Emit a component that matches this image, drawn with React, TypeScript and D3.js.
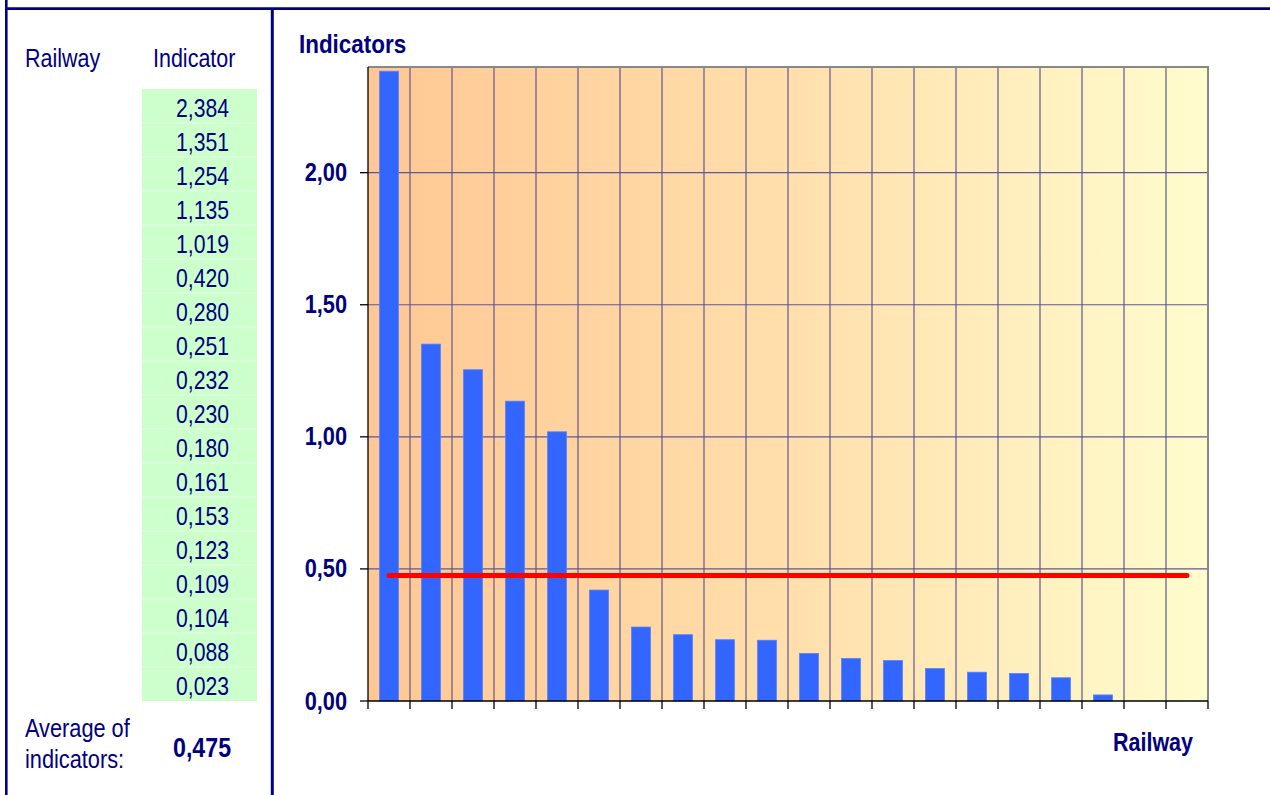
import React from 'react'
import * as d3 from 'd3'

// data
const railways = ['R1', 'R2', 'R3', 'R4', 'R5', 'R6', 'R7', 'R8', 'R9', 'R10', 'R11', 'R12', 'R13', 'R14', 'R15', 'R16', 'R17', 'R18', 'R19', 'R20']
const indicators = [2.384, 1.351, 1.254, 1.135, 1.019, 0.42, 0.28, 0.251, 0.232, 0.23, 0.18, 0.161, 0.153, 0.123, 0.109, 0.104, 0.088, 0.023]
const average = 0.475
const yTicks = [0, 0.5, 1, 1.5, 2]

const W = 1270
const H = 795
const NAVY = '#000080'
const FONT = '"Liberation Sans", Arial, sans-serif'

const plot = { left: 368, right: 1208, top: 67, bottom: 701 }

const locale = d3.formatLocale({ decimal: ',', thousands: '.', grouping: [3], currency: ['', ''] })
const fmt2 = locale.format('.2f')
const fmt3 = locale.format('.3f')

// text helper, the source font is narrower than Arial
const T = ({ x, y, size, bold = false, anchor = 'start', sx = 0.86, children }: any) => (
  <text
    transform={`translate(${x},${y}) scale(${sx},1)`}
    fontSize={size}
    fontWeight={bold ? 'bold' : 'normal'}
    fontFamily={FONT}
    fill={NAVY}
    textAnchor={anchor}
  >
    {children}
  </text>
)

export default function App() {
  const x = d3
    .scaleBand<string>()
    .domain(railways)
    .range([plot.left, plot.right])
    .paddingInner(0.55)
    .paddingOuter(0.275)
  const step = x.step()
  const y = d3.scaleLinear().domain([0, 2.4]).range([plot.bottom, plot.top])

  const bounds = d3.range(railways.length + 1).map((i) => plot.left + i * step)
  const center = (r: string) => (x(r) as number) + x.bandwidth() / 2

  // table
  const rowH = 34
  const tableTop = 89

  return (
    <svg width={W} height={H} style={{ position: 'absolute', left: 0, top: 0, background: '#fff' }}>
      <defs>
        <linearGradient id="bg" x1="0" x2="1" y1="0" y2="0">
          <stop offset="0%" stopColor="#ffc793" />
          <stop offset="50%" stopColor="#ffdfab" />
          <stop offset="100%" stopColor="#fffccd" />
        </linearGradient>
      </defs>

      {/* frame */}
      <line x1={6.3} x2={6.3} y1={0} y2={H} stroke={NAVY} strokeWidth={2.6} />
      <line x1={5} x2={W} y1={8.7} y2={8.7} stroke={NAVY} strokeWidth={2.8} />
      <line x1={272.3} x2={272.3} y1={8} y2={H} stroke={NAVY} strokeWidth={3} />

      {/* left table */}
      <T x={25} y={67} size={25} sx={0.86}>Railway</T>
      <T x={153} y={67} size={25} sx={0.86}>Indicator</T>
      <rect x={142} y={tableTop} width={115} height={rowH * indicators.length} fill="#ccffcc" />
      {indicators.slice(1).map((_, i) => (
        <line
          key={i}
          x1={142}
          x2={257}
          y1={tableTop + (i + 1) * rowH}
          y2={tableTop + (i + 1) * rowH}
          stroke="#e6ffe6"
          strokeWidth={1}
        />
      ))}
      {indicators.map((v, i) => (
        <T key={i} x={229} y={tableTop + i * rowH + 27.5} size={25.5} sx={0.83} anchor="end">
          {fmt3(v)}
        </T>
      ))}
      <T x={25} y={737} size={25} sx={0.87}>Average of</T>
      <T x={25} y={768} size={25} sx={0.87}>indicators:</T>
      <T x={173} y={757} size={27} bold sx={0.86}>{fmt3(average)}</T>

      {/* chart */}
      <T x={299} y={53} size={25.5} bold sx={0.88}>Indicators</T>
      <rect x={plot.left} y={plot.top} width={plot.right - plot.left} height={plot.bottom - plot.top} fill="url(#bg)" />
      {yTicks.slice(1).map((t) => (
        <line key={t} x1={plot.left} x2={plot.right} y1={y(t)} y2={y(t)} stroke="#5e5896" strokeWidth={1.2} />
      ))}
      {bounds.slice(1, -1).map((b, i) => (
        <line key={i} x1={b} x2={b} y1={plot.top} y2={plot.bottom} stroke="#5e5896" strokeWidth={1.2} />
      ))}
      <line x1={plot.left} x2={plot.right + 1} y1={plot.top} y2={plot.top} stroke="#888" strokeWidth={2} />
      <line x1={plot.right} x2={plot.right} y1={plot.top} y2={plot.bottom} stroke="#888" strokeWidth={2} />

      {indicators.map((v, i) => (
        <rect
          key={i}
          x={x(railways[i])}
          y={y(v)}
          width={x.bandwidth()}
          height={y(0) - y(v)}
          fill="#3366ff"
          stroke="#5580ff"
          strokeWidth={0.8}
        />
      ))}

      <line
        x1={center(railways[0])}
        x2={center(railways[railways.length - 1])}
        y1={y(average)}
        y2={y(average)}
        stroke="#ff0000"
        strokeWidth={5}
        strokeLinecap="round"
      />

      {/* axes */}
      <line x1={plot.left} x2={plot.left} y1={plot.top} y2={plot.bottom} stroke="#000" strokeWidth={1.3} />
      <line x1={plot.left} x2={plot.right} y1={plot.bottom} y2={plot.bottom} stroke="#000" strokeWidth={1.3} />
      {bounds.map((b, i) => (
        <line key={i} x1={b} x2={b} y1={plot.bottom} y2={plot.bottom + 8} stroke="#000" strokeWidth={1.3} />
      ))}
      {yTicks.map((t) => (
        <g key={t}>
          <line x1={plot.left - 8} x2={plot.left} y1={y(t)} y2={y(t)} stroke="#000" strokeWidth={1.3} />
          <T x={347} y={y(t) + 8.5} size={25} bold sx={0.87} anchor="end">
            {fmt2(t)}
          </T>
        </g>
      ))}
      <T x={1193} y={751} size={25} bold sx={0.86} anchor="end">Railway</T>
    </svg>
  )
}
